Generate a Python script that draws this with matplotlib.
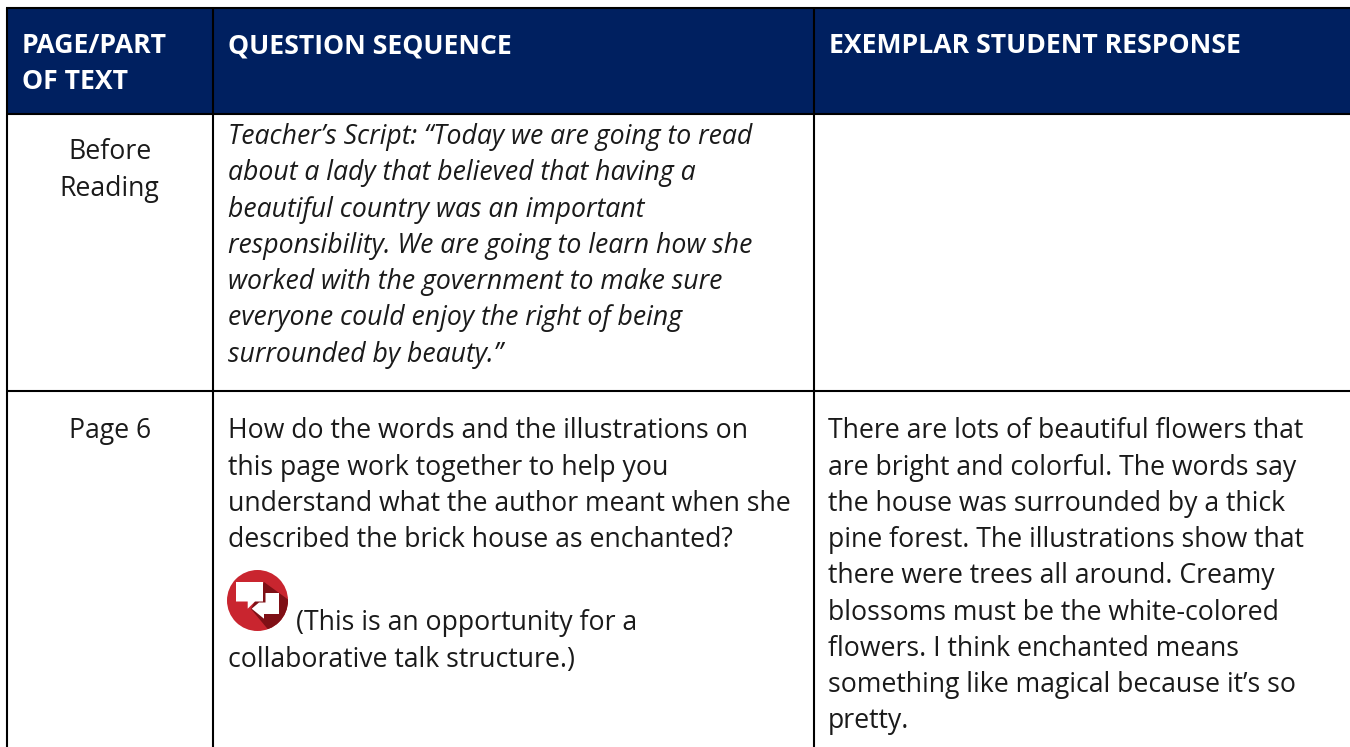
import matplotlib
matplotlib.use("Agg")
import matplotlib.pyplot as plt
from matplotlib.patches import Rectangle, Circle, Polygon

W, H = 1350, 747
NAVY = "#002060"
INK = "#1a1a1a"

headers = [("PAGE/PART", 22, 53), ("OF TEXT", 22, 89),
           ("QUESTION SEQUENCE", 228, 53), ("EXEMPLAR STUDENT RESPONSE", 829, 53)]
col1_lines = [("Before", 110, 159), ("Reading", 109.5, 196), ("Page 6", 110, 438)]
script_lines = ["Teacher\u2019s Script: \u201cToday we are going to read",
                "about a lady that believed that having a",
                "beautiful country was an important",
                "responsibility. We are going to learn how she",
                "worked with the government to make sure",
                "everyone could enjoy the right of being",
                "surrounded by beauty.\u201d"]
question_lines = ["How do the words and the illustrations on",
                  "this page work together to help you",
                  "understand what the author meant when she",
                  "described the brick house as enchanted?"]
talk_lines = [("(This is an opportunity for a", 296, 630),
              ("collaborative talk structure.)", 228, 667)]
response_lines = ["There are lots of beautiful flowers that",
                  "are bright and colorful. The words say",
                  "the house was surrounded by a thick",
                  "pine forest. The illustrations show that",
                  "there were trees all around. Creamy",
                  "blossoms must be the white-colored",
                  "flowers. I think enchanted means",
                  "something like magical because it\u2019s so",
                  "pretty."]

fig = plt.figure(figsize=(W / 100, H / 100), dpi=100, facecolor="white")
ax = fig.add_axes([0, 0, 1, 1])
ax.set_xlim(0, W)
ax.set_ylim(H, 0)
ax.axis("off")

ax.add_patch(Rectangle((7, 8), W - 7, 105, fc=NAVY, ec="none", zorder=1))
LW = 1.5
for x in (7, 213, 814):
    ax.plot([x, x], [8, H], color="black", lw=LW, solid_capstyle="butt", zorder=2)
for y in (8, 113.5, 391):
    ax.plot([6, W], [y, y], color="black", lw=LW, solid_capstyle="butt", zorder=2)

FS = 19.2
font = "Open Sans"
for s, x, y in headers:
    ax.text(x, y, s, color="white", fontsize=FS, fontweight="bold", family=font, va="baseline", ha="left", zorder=3)
for s, x, y in col1_lines:
    ax.text(x, y, s, color=INK, fontsize=FS, family=font, va="baseline", ha="center", zorder=3)
for i, s in enumerate(script_lines):
    ax.text(228, 144 + i * 36.3, s, color=INK, fontsize=FS, style="italic", family=font, va="baseline", zorder=3)
for i, s in enumerate(question_lines):
    ax.text(228, 438.4 + i * 36.3, s, color=INK, fontsize=FS, family=font, va="baseline", zorder=3)
for s, x, y in talk_lines:
    ax.text(x, y, s, color=INK, fontsize=FS, family=font, va="baseline", zorder=3)
for i, s in enumerate(response_lines):
    ax.text(828, 438.4 + i * 36.25, s, color=INK, fontsize=FS, family=font, va="baseline", zorder=3)

# talk-structure icon
circ = Circle((257.5, 600.5), 30.5, fc="#C9252F", ec="none", zorder=3)
ax.add_patch(circ)
shadow = Polygon([(264, 582), (297, 606), (292, 637), (271, 633), (251, 609)],
                 fc="#7F1016", ec="none", zorder=4)
ax.add_patch(shadow)
shadow.set_clip_path(circ)
ax.add_patch(Polygon([(236, 582), (263, 582), (263, 601.5), (255, 601.5), (247.7, 608.7), (247.7, 601.5), (236, 601.5)],
                     fc="white", ec="none", zorder=5))
ax.add_patch(Polygon([(265.5, 593), (279, 593), (279, 614), (264, 614), (264, 618.7), (251.7, 608.7), (259, 602.5), (265.5, 602.5)],
                     fc="white", ec="none", zorder=5))

fig.savefig("out.png", dpi=100, facecolor="white")
